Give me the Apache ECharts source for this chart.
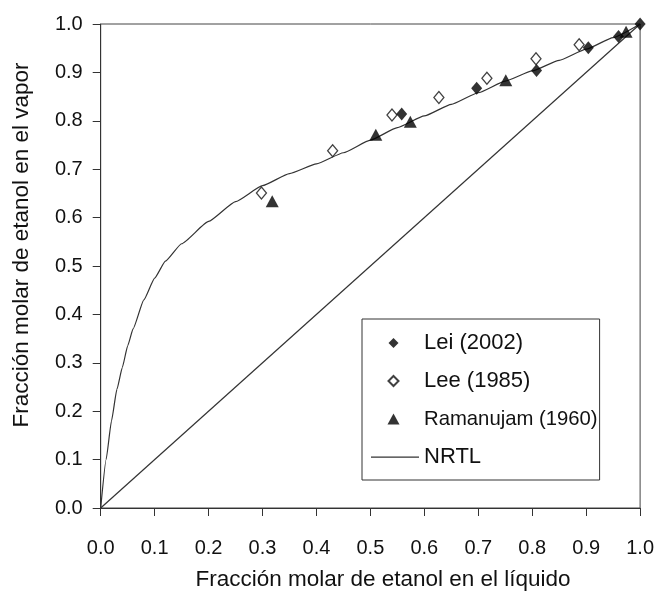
<!DOCTYPE html>
<html>
<head>
<meta charset="utf-8">
<script src="https://cdn.jsdelivr.net/npm/echarts@6/dist/echarts.min.js"></script>
<style>
html,body{margin:0;padding:0;background:#fff;}
#chart{width:657px;height:594px;}
</style>
</head>
<body>
<div id="chart"></div>
<script>
// ---- data ----
const xTicks = [0.0,0.1,0.2,0.3,0.4,0.5,0.6,0.7,0.8,0.9,1.0];
const yTicks = [0.0,0.1,0.2,0.3,0.4,0.5,0.6,0.7,0.8,0.9,1.0];

const leiX = [0.558, 0.697, 0.808, 0.904, 0.960, 1.0];
const leiY = [0.814, 0.867, 0.904, 0.951, 0.974, 1.0];

const leeX = [0.298, 0.430, 0.540, 0.627, 0.716, 0.807, 0.887];
const leeY = [0.651, 0.738, 0.812, 0.848, 0.888, 0.928, 0.957];

const ramX = [0.318, 0.510, 0.574, 0.751, 0.974];
const ramY = [0.634, 0.771, 0.798, 0.884, 0.984];

const nrtlX = [0, 0.01, 0.02, 0.03, 0.04, 0.05, 0.06, 0.08, 0.10, 0.12, 0.15, 0.20, 0.25, 0.30, 0.35, 0.40, 0.45, 0.50, 0.55, 0.60, 0.65, 0.70, 0.75, 0.80, 0.85, 0.90, 0.95, 1.00];
const nrtlY = [0, 0.10, 0.18, 0.245, 0.29, 0.335, 0.37, 0.43, 0.475, 0.51, 0.546, 0.592, 0.633, 0.666, 0.691, 0.711, 0.734, 0.760, 0.786, 0.810, 0.834, 0.858, 0.882, 0.903, 0.925, 0.948, 0.972, 1.0];

const diagX = [0, 1];
const diagY = [0, 1];

const names = ['Lei (2002)', 'Lee (1985)', 'Ramanujam (1960)', 'NRTL'];
const xTitle = 'Fracción molar de etanol en el líquido';
const yTitle = 'Fracción molar de etanol en el vapor';

// ---- build ----
const zip = (a, b) => a.map((v, i) => [v, b[i]]);
const FONT = '"Liberation Sans", Arial, sans-serif';
const chart = echarts.init(document.getElementById('chart'), null, {renderer: 'canvas'});

const PAD = 'M0 0 L0 0 M48 11 L48 11 ';
const iconDiamond = 'path://' + PAD + 'M22.5 0.5 L27.5 5.5 L22.5 10.5 L17.5 5.5 Z';
const iconTriangle = 'path://' + PAD + 'M22.5 0 L28.5 11 L16.5 11 Z';
const iconLine = 'path://' + PAD + 'M0 5 L48 5 L48 6.2 L0 6.2 Z';

const axisCommon = {
  type: 'value', min: 0, max: 1, interval: 0.1,
  axisLine: {show: true, lineStyle: {color: '#333', width: 1}},
  axisTick: {show: true, inside: false, length: 8, lineStyle: {color: '#333', width: 1}},
  splitLine: {show: false},
  axisLabel: {color: '#111', fontFamily: FONT, fontSize: 20, formatter: v => v.toFixed(1)}
};

chart.setOption({
  animation: false,
  backgroundColor: '#fff',
  grid: {left: 100.7, right: 16, top: 24, bottom: 86, show: true, borderColor: '#444', borderWidth: 1, backgroundColor: 'transparent'},
  xAxis: Object.assign({}, axisCommon, {
    axisLabel: Object.assign({}, axisCommon.axisLabel, {margin: 30})
  }),
  yAxis: Object.assign({}, axisCommon, {
    axisLabel: Object.assign({}, axisCommon.axisLabel, {margin: 18})
  }),
  graphic: [
    {type: 'text', x: 383, y: 580, silent: true,
      style: {text: xTitle, fill: '#111', font: '22.5px ' + FONT, textAlign: 'center', textVerticalAlign: 'middle'}},
    {type: 'text', x: 22, y: 245, rotation: Math.PI / 2, silent: true,
      style: {text: yTitle, fill: '#111', font: '22.5px ' + FONT, textAlign: 'center', textVerticalAlign: 'middle'}}
  ],
  legend: {
    data: [
      {name: names[0], icon: iconDiamond},
      {name: names[1], icon: iconDiamond},
      {name: names[2], icon: iconTriangle},
      {name: names[3], icon: iconLine}
    ],
    orient: 'vertical',
    left: 362, top: 319,
    padding: [13, 2, 12, 8],
    itemWidth: 48, itemHeight: 11, itemGap: 16,
    symbolKeepAspect: true,
    backgroundColor: '#fff',
    borderColor: '#333', borderWidth: 1,
    textStyle: {color: '#111', fontFamily: FONT, fontSize: 22, lineHeight: 22,
      rich: {r: {fontFamily: FONT, fontSize: 20.3, lineHeight: 22, color: '#111'}, n: {fontFamily: FONT, fontSize: 22, lineHeight: 22, color: '#111'}}},
    formatter: n => n.indexOf('Ramanujam') === 0 ? '{r|' + n + '}' : '{n|' + n + '}'
  },
  series: [
    {
      name: 'NRTL', type: 'line', data: zip(nrtlX, nrtlY), showSymbol: false, symbol: 'none',
      smooth: 0.15, smoothMonotone: 'x',
      lineStyle: {color: '#333', width: 1.2}, itemStyle: {color: '#333'}, z: 2
    },
    {
      name: 'diag', type: 'line', data: zip(diagX, diagY), showSymbol: false, symbol: 'none',
      lineStyle: {color: '#333', width: 1.2}, z: 2
    },
    {
      name: 'Lee (1985)', type: 'scatter', data: zip(leeX, leeY), symbol: 'diamond', symbolSize: [10, 12],
      itemStyle: {color: '#fff', borderColor: '#111', borderWidth: 1.3}, z: 4
    },
    {
      name: 'Lei (2002)', type: 'scatter', data: zip(leiX, leiY), symbol: 'diamond', symbolSize: [11, 13],
      itemStyle: {color: '#000'}, z: 5
    },
    {
      name: 'Ramanujam (1960)', type: 'scatter', data: zip(ramX, ramY), symbol: 'triangle', symbolSize: [13, 12],
      itemStyle: {color: '#000'}, z: 5
    }
  ]
});
</script>
</body>
</html>
